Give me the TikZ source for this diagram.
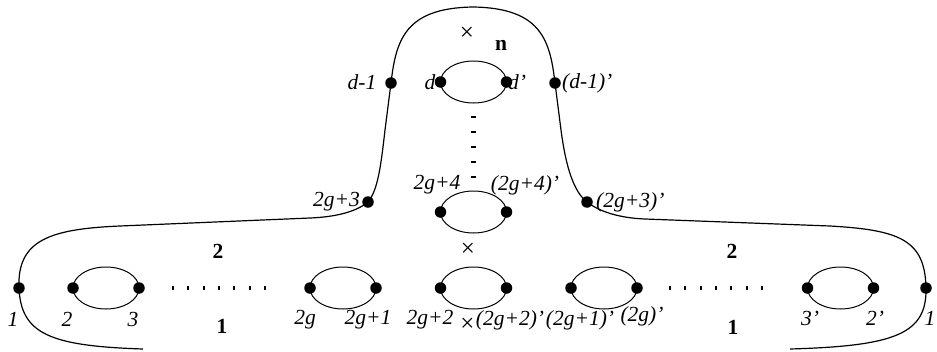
\documentclass[tikz,border=0pt]{standalone}
\usepackage{fontspec}
\setmainfont{Liberation Serif}
\begin{document}
\begin{tikzpicture}[x=1pt,y=-1pt,
  outer/.style={line width=1.2pt},
  loop/.style={line width=1pt},
  dot/.style={circle,fill=black,inner sep=0pt,minimum size=11.5pt},
  lab/.style={font=\fontsize{21.5}{25}\selectfont\itshape,inner sep=0pt},
  reg/.style={font=\fontsize{21.5}{25}\selectfont\bfseries,inner sep=0pt},
  crs/.style={font=\fontsize{25}{28}\selectfont,inner sep=0pt},
  tick/.style={fill=black,minimum width=2pt,minimum height=4.5pt,inner sep=0pt},
  htick/.style={fill=black,minimum width=4.5pt,minimum height=2pt,inner sep=0pt}]
\useasboundingbox (0,0) rectangle (937,351);

% outer surface
\draw[outer] (143,349) .. controls (50,346) and (21,334) .. (19,288)
  .. controls (17,240) and (50,229) .. (120,226)
  -- (310,218) .. controls (335,217) and (356,212) .. (368,202)
  .. controls (378,190) and (381,165) .. (385,130)
  -- (391,83) .. controls (396,40) and (405,8) .. (473,7)
  .. controls (541,8) and (550,40) .. (555,83)
  -- (561,130) .. controls (566,168) and (574,192) .. (587,202)
  .. controls (600,212) and (620,218) .. (645,219)
  -- (830,226) .. controls (900,230) and (925,240) .. (926,288)
  .. controls (927,334) and (895,346) .. (790,349);

% outer marked points
\node[dot] (o1)  at (19,288) {};
\node[dot] (o1p) at (926,288) {};
\node[dot] (o3)  at (368,202) {};
\node[dot] (o3p) at (587,202) {};
\node[dot] (od)  at (391,83) {};
\node[dot] (odp) at (555,83) {};

% handles (loops)
\foreach \n/\cx/\cy in {a/106/288, b/343/288, c/473.5/288, e/604/288, f/840.5/288, h/473.5/212, k/473.5/82}{
  \draw[loop] (\cx,\cy) ellipse [x radius=33, y radius=21];
  \node[dot] (\n L) at (\cx-33,\cy) {};
  \node[dot] (\n R) at (\cx+33,\cy) {};
}

% dotted rows
\foreach \i in {0,...,6}{
  \node[tick] (tl\i) at (173+\i*15.33,288) {};
  \node[tick] (tr\i) at (670+\i*15.33,288) {};
}
\foreach \i in {0,...,4}{
  \node[htick] (tv\i) at (473.5,117+\i*15) {};
}

% labels bottom row
\node[lab] (l1)   at (13,319) {1};
\node[lab] (l2)   at (67,319) {2};
\node[lab] (l3)   at (133,319) {3};
\node[lab] (l2g)  at (305,320) {2g};
\node[lab] (l2g1) at (368,320) {2g+1};
\node[lab] (l2g2) at (430,320) {2g+2};
\node[crs] (xb)   at (467.5,325) {×};
\node[lab] (l2g2p) at (510,320) {(2g+2)'};
\node[lab] (l2g1p) at (580,320) {(2g+1)'};
\node[lab] (l2gp) at (642,316) {(2g)'};
\node[lab] (l3p)  at (810,318) {3'};
\node[lab] (l2p)  at (875,318) {2'};
\node[lab] (l1p)  at (930,318) {1};

% region labels
\node[reg] (r2l) at (218,251) {2};
\node[reg] (r1l) at (222,326) {1};
\node[reg] (r2r) at (732,251) {2};
\node[reg] (r1r) at (733,327) {1};
\node[crs] (xm)  at (468,250) {×};
\node[crs] (xt)  at (467,34) {×};
\node[reg] (rn)  at (501,45) {n};

% labels neck
\node[lab,anchor=east] (l2g3) at (360,202) {2g+3};
\node[lab,anchor=west] (l2g3p) at (596,202) {(2g+3)'};
\node[lab] (l2g4) at (437,185) {2g+4};
\node[lab] (l2g4p) at (525,185) {(2g+4)'};
\node[lab] (ld1) at (362,82) {d-1};
\node[lab] (ld) at (430,82) {d};
\node[lab,anchor=west] (ldp) at (508,82) {d'};
\node[lab,anchor=west] (ld1p) at (562,83) {(d-1)'};
\end{tikzpicture}
\end{document}
